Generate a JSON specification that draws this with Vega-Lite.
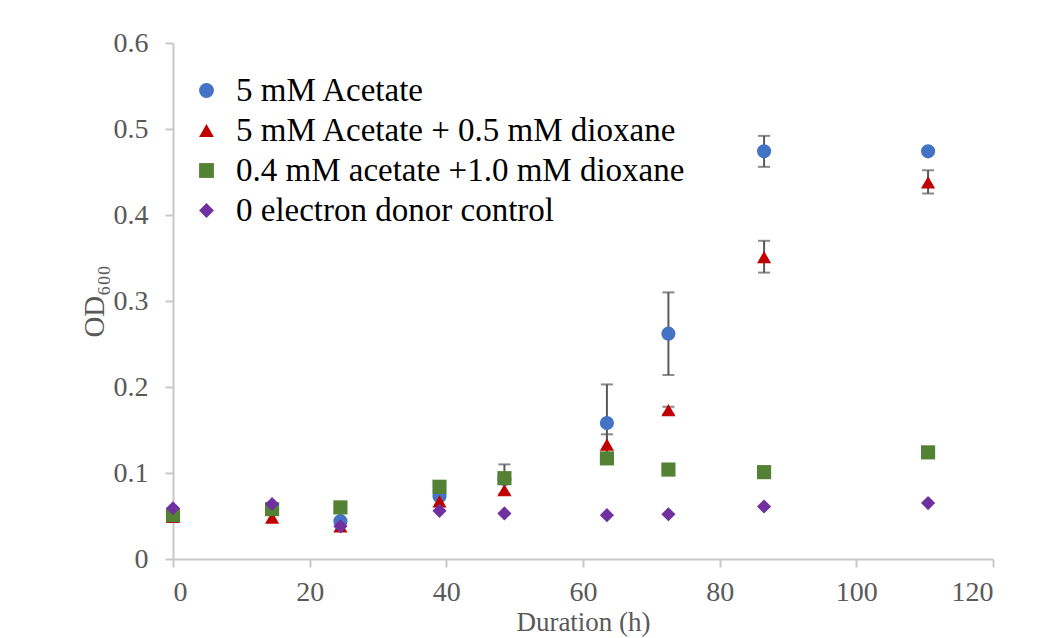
{
  "$schema": "https://vega.github.io/schema/vega-lite/v6.json",
  "width": 820,
  "height": 516,
  "autosize": {"type": "none"},
  "padding": {"left": 173, "top": 43, "right": 60, "bottom": 79},
  "background": "white",
  "config": {
    "view": {"stroke": null},
    "font": "Liberation Serif",
    "legend": {"labelFont": "Liberation Serif, Times New Roman, serif", "titleFont": "Liberation Serif", "symbolSize": 220, "labelFontSize": 33},
    "axis": {
      "domainColor": "#c8c8c8",
      "domainWidth": 2,
      "tickColor": "#c8c8c8",
      "tickWidth": 2,
      "tickSize": 8,
      "grid": false,
      "labelFont": "Liberation Serif",
      "labelFontSize": 28,
      "labelColor": "#595959",
      "titleFont": "Liberation Serif",
      "titleFontSize": 27,
      "titleFontWeight": "normal",
      "titleColor": "#595959"
    }
  },
  "data": {
    "values": [
      {"series": "5 mM Acetate", "t": 0, "od": 0.050, "lo": null, "hi": null},
      {"series": "5 mM Acetate", "t": 14.5, "od": 0.058, "lo": null, "hi": null},
      {"series": "5 mM Acetate", "t": 24.5, "od": 0.044, "lo": null, "hi": null},
      {"series": "5 mM Acetate", "t": 39, "od": 0.073, "lo": null, "hi": null},
      {"series": "5 mM Acetate", "t": 48.5, "od": 0.093, "lo": 0.076, "hi": 0.110},
      {"series": "5 mM Acetate", "t": 63.5, "od": 0.158, "lo": 0.113, "hi": 0.203},
      {"series": "5 mM Acetate", "t": 72.5, "od": 0.262, "lo": 0.214, "hi": 0.310},
      {"series": "5 mM Acetate", "t": 86.5, "od": 0.474, "lo": 0.456, "hi": 0.492},
      {"series": "5 mM Acetate", "t": 110.5, "od": 0.474, "lo": null, "hi": null},
      {"series": "5 mM Acetate + 0.5 mM dioxane", "t": 0, "od": 0.049, "lo": null, "hi": null},
      {"series": "5 mM Acetate + 0.5 mM dioxane", "t": 14.5, "od": 0.048, "lo": null, "hi": null},
      {"series": "5 mM Acetate + 0.5 mM dioxane", "t": 24.5, "od": 0.038, "lo": null, "hi": null},
      {"series": "5 mM Acetate + 0.5 mM dioxane", "t": 39, "od": 0.067, "lo": null, "hi": null},
      {"series": "5 mM Acetate + 0.5 mM dioxane", "t": 48.5, "od": 0.080, "lo": null, "hi": null},
      {"series": "5 mM Acetate + 0.5 mM dioxane", "t": 63.5, "od": 0.133, "lo": 0.121, "hi": 0.145},
      {"series": "5 mM Acetate + 0.5 mM dioxane", "t": 72.5, "od": 0.173, "lo": 0.169, "hi": 0.177},
      {"series": "5 mM Acetate + 0.5 mM dioxane", "t": 86.5, "od": 0.351, "lo": 0.333, "hi": 0.370},
      {"series": "5 mM Acetate + 0.5 mM dioxane", "t": 110.5, "od": 0.438, "lo": 0.425, "hi": 0.452},
      {"series": "0.4 mM acetate +1.0 mM dioxane", "t": 0, "od": 0.051, "lo": null, "hi": null},
      {"series": "0.4 mM acetate +1.0 mM dioxane", "t": 14.5, "od": 0.058, "lo": null, "hi": null},
      {"series": "0.4 mM acetate +1.0 mM dioxane", "t": 24.5, "od": 0.060, "lo": null, "hi": null},
      {"series": "0.4 mM acetate +1.0 mM dioxane", "t": 39, "od": 0.084, "lo": null, "hi": null},
      {"series": "0.4 mM acetate +1.0 mM dioxane", "t": 48.5, "od": 0.094, "lo": null, "hi": null},
      {"series": "0.4 mM acetate +1.0 mM dioxane", "t": 63.5, "od": 0.117, "lo": null, "hi": null},
      {"series": "0.4 mM acetate +1.0 mM dioxane", "t": 72.5, "od": 0.104, "lo": null, "hi": null},
      {"series": "0.4 mM acetate +1.0 mM dioxane", "t": 86.5, "od": 0.101, "lo": null, "hi": null},
      {"series": "0.4 mM acetate +1.0 mM dioxane", "t": 110.5, "od": 0.124, "lo": null, "hi": null},
      {"series": "0 electron donor control", "t": 0, "od": 0.059, "lo": null, "hi": null},
      {"series": "0 electron donor control", "t": 14.5, "od": 0.064, "lo": null, "hi": null},
      {"series": "0 electron donor control", "t": 24.5, "od": 0.038, "lo": null, "hi": null},
      {"series": "0 electron donor control", "t": 39, "od": 0.056, "lo": null, "hi": null},
      {"series": "0 electron donor control", "t": 48.5, "od": 0.053, "lo": null, "hi": null},
      {"series": "0 electron donor control", "t": 63.5, "od": 0.051, "lo": null, "hi": null},
      {"series": "0 electron donor control", "t": 72.5, "od": 0.052, "lo": null, "hi": null},
      {"series": "0 electron donor control", "t": 86.5, "od": 0.061, "lo": null, "hi": null},
      {"series": "0 electron donor control", "t": 110.5, "od": 0.065, "lo": null, "hi": null}
    ]
  },
  "encoding": {
    "x": {
      "field": "t",
      "type": "quantitative",
      "scale": {"domain": [0, 120], "nice": false},
      "axis": {"values": [0, 20, 40, 60, 80, 100, 120], "title": "Duration (h)", "labelPadding": 11, "titlePadding": 3}
    }
  },
  "layer": [
    {
      "transform": [{"filter": "datum.hi != null"}],
      "mark": {"type": "rule", "color": "#595959", "strokeWidth": 2},
      "encoding": {
        "y": {"field": "lo", "type": "quantitative", "scale": {"domain": [0, 0.6], "nice": false}, "axis": {"values": [0, 0.1, 0.2, 0.3, 0.4, 0.5, 0.6], "format": ".1~f", "title": "OD₆₀₀", "titleFontSize": 29, "labelPadding": 17, "titlePadding": 4}},
        "y2": {"field": "hi"}
      }
    },
    {
      "transform": [{"filter": "datum.hi != null"}],
      "mark": {"type": "tick", "color": "#595959", "thickness": 2, "size": 12, "orient": "horizontal"},
      "encoding": {
        "y": {"field": "hi", "type": "quantitative", "axis": {"values": [0, 0.1, 0.2, 0.3, 0.4, 0.5, 0.6], "format": ".1~f", "title": "OD₆₀₀", "titleFontSize": 29, "labelPadding": 17, "titlePadding": 4}}
      }
    },
    {
      "transform": [{"filter": "datum.lo != null"}],
      "mark": {"type": "tick", "color": "#595959", "thickness": 2, "size": 12, "orient": "horizontal"},
      "encoding": {
        "y": {"field": "lo", "type": "quantitative", "axis": {"values": [0, 0.1, 0.2, 0.3, 0.4, 0.5, 0.6], "format": ".1~f", "title": "OD₆₀₀", "titleFontSize": 29, "labelPadding": 17, "titlePadding": 4}}
      }
    },
    {
      "mark": {"type": "point", "filled": true, "opacity": 1, "size": 200},
      "encoding": {
        "y": {"field": "od", "type": "quantitative", "axis": {"values": [0, 0.1, 0.2, 0.3, 0.4, 0.5, 0.6], "format": ".1~f", "title": "OD₆₀₀", "titleFontSize": 29, "labelPadding": 17, "titlePadding": 4}},
        "color": {
          "field": "series",
          "type": "nominal",
          "sort": null,
          "scale": {
            "domain": ["5 mM Acetate", "5 mM Acetate + 0.5 mM dioxane", "0.4 mM acetate +1.0 mM dioxane", "0 electron donor control"],
            "range": ["#4472C4", "#C00000", "#548235", "#7030A0"]
          },
          "legend": {
            "title": null,
            "orient": "none",
            "legendX": 17,
            "legendY": 31,
            "labelFont": "Liberation Serif, Times New Roman, serif",
            "labelFontSize": 33,
            "labelColor": "#000000",
            "labelLimit": 800,
            "labelOffset": 13,
            "symbolSize": 220,
            "rowPadding": 6,
            "symbolStrokeWidth": 0
          }
        },
        "shape": {
          "field": "series",
          "type": "nominal",
          "sort": null,
          "scale": {
            "domain": ["5 mM Acetate", "5 mM Acetate + 0.5 mM dioxane", "0.4 mM acetate +1.0 mM dioxane", "0 electron donor control"],
            "range": ["circle", "triangle-up", "square", "diamond"]
          },
          "legend": {
            "title": null,
            "orient": "none",
            "legendX": 17,
            "legendY": 31,
            "labelFont": "Liberation Serif, Times New Roman, serif",
            "labelFontSize": 33,
            "labelColor": "#000000",
            "labelLimit": 800,
            "labelOffset": 13,
            "symbolSize": 220,
            "rowPadding": 6,
            "symbolStrokeWidth": 0
          }
        }
      }
    }
  ]
}
